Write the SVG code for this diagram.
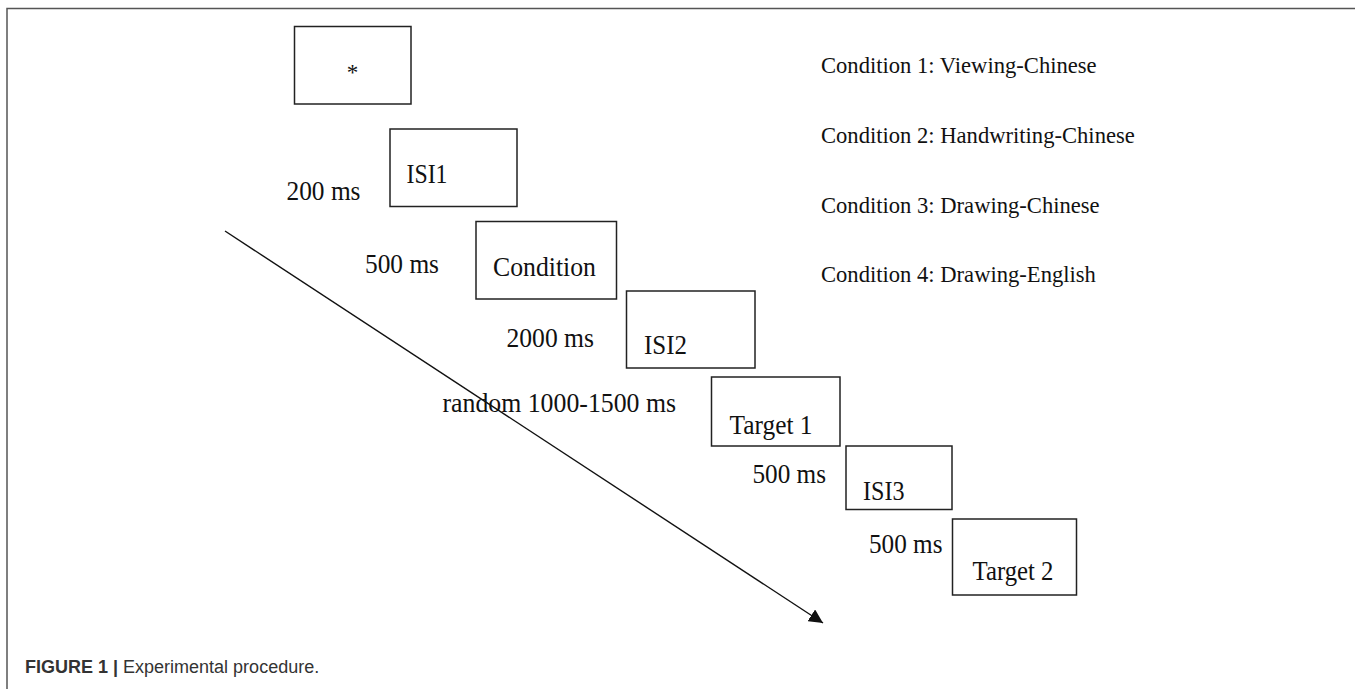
<svg xmlns="http://www.w3.org/2000/svg" width="1355" height="689" viewBox="0 0 1355 689">
<style>
.frame{fill:none;stroke:#555;stroke-width:1.5}
.box{fill:#fff;stroke:#222;stroke-width:1.5}
.t{font-family:"Liberation Serif","Times New Roman",serif;font-size:27px;fill:#111}
.c{font-family:"Liberation Serif","Times New Roman",serif;font-size:22.6px;fill:#111}
.cap{font-family:"Liberation Sans",Arial,sans-serif;font-size:18px;fill:#333}
.conn{fill:none;stroke:#111;stroke-width:1.4}
</style>
<defs>
<marker id="ah" markerUnits="userSpaceOnUse" markerWidth="16" markerHeight="14" refX="14" refY="7" orient="auto">
<path d="M0,0 L14,7 L0,14 Z" fill="#111"/>
</marker>
</defs>
<rect width="1355" height="689" fill="#fff"/>
<path class="frame" d="M7,689 V8.5 H1355"/>
<g id="connectors">
<line class="conn" x1="225" y1="231" x2="823" y2="623" marker-end="url(#ah)"/>
</g>
<g id="fixation">
<rect class="box" x="294.5" y="26.5" width="116.5" height="77.5"/>
<text x="352.5" y="80" text-anchor="middle" font-family="Liberation Serif,serif" font-size="23" fill="#111">*</text>
</g>
<g id="isi1">
<rect class="box" x="390" y="129" width="127" height="77.5"/>
<text class="t" x="406.5" y="183" textLength="41" lengthAdjust="spacingAndGlyphs">ISI1</text>
</g>
<g id="label-200">
<text class="t" x="286.5" y="200" textLength="74" lengthAdjust="spacingAndGlyphs">200 ms</text>
</g>
<g id="condition">
<rect class="box" x="476" y="221.5" width="140.5" height="77.5"/>
<text class="t" x="493" y="276" textLength="103" lengthAdjust="spacingAndGlyphs">Condition</text>
</g>
<g id="label-500a">
<text class="t" x="365" y="273" textLength="74" lengthAdjust="spacingAndGlyphs">500 ms</text>
</g>
<g id="isi2">
<rect class="box" x="626.5" y="291" width="128.5" height="77"/>
<text class="t" x="644" y="354" textLength="43" lengthAdjust="spacingAndGlyphs">ISI2</text>
</g>
<g id="label-2000">
<text class="t" x="506.5" y="347" textLength="87.5" lengthAdjust="spacingAndGlyphs">2000 ms</text>
</g>
<g id="target1">
<rect class="box" x="711.5" y="377" width="128.5" height="69"/>
<text class="t" x="729.5" y="434" textLength="83" lengthAdjust="spacingAndGlyphs">Target 1</text>
</g>
<g id="label-random">
<text class="t" x="442.5" y="412" textLength="233.5" lengthAdjust="spacingAndGlyphs">random 1000-1500 ms</text>
</g>
<g id="isi3">
<rect class="box" x="846" y="446" width="106" height="63.5"/>
<text class="t" x="863" y="500" textLength="41.5" lengthAdjust="spacingAndGlyphs">ISI3</text>
</g>
<g id="label-500b">
<text class="t" x="752.5" y="483" textLength="73.5" lengthAdjust="spacingAndGlyphs">500 ms</text>
</g>
<g id="target2">
<rect class="box" x="952.5" y="519" width="124" height="76"/>
<text class="t" x="972.5" y="580" textLength="81" lengthAdjust="spacingAndGlyphs">Target 2</text>
</g>
<g id="label-500c">
<text class="t" x="869" y="553" textLength="73.5" lengthAdjust="spacingAndGlyphs">500 ms</text>
</g>
<g id="conditions">
<text class="c" x="821" y="73">Condition 1: Viewing-Chinese</text>
<text class="c" x="821" y="143">Condition 2: Handwriting-Chinese</text>
<text class="c" x="821" y="213">Condition 3: Drawing-Chinese</text>
<text class="c" x="821" y="282">Condition 4: Drawing-English</text>
</g>
<g id="caption">
<text class="cap" x="25" y="673"><tspan font-weight="bold">FIGURE 1 | </tspan>Experimental procedure.</text>
</g>
</svg>
